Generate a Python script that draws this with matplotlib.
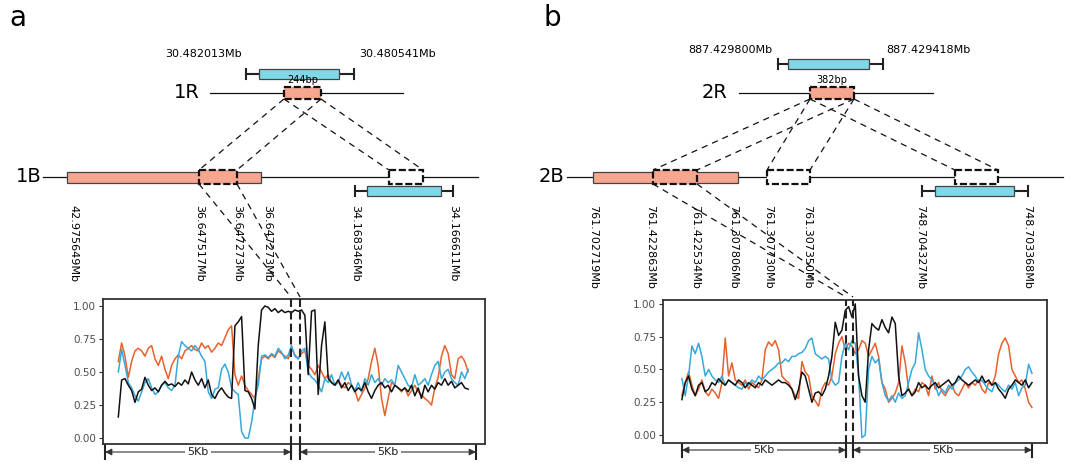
"""Synteny sketch of a 1R/1B and 2R/2B insertion with sliding-window similarity tracks."""

import numpy as np
import matplotlib

matplotlib.use("Agg")
import matplotlib.pyplot as plt
from matplotlib.patches import Rectangle

plt.rcParams["font.family"] = ["DejaVu Sans"]

# ---------------- data ----------------
Y_TICKS = [0.00, 0.25, 0.50, 0.75, 1.00]

# panel a: window values from the left flank to the right flank
a_black = [0.16, 0.44, 0.45, 0.40, 0.36, 0.27, 0.35, 0.37, 0.46, 0.40,
           0.36, 0.38, 0.35, 0.40, 0.43, 0.40, 0.41, 0.39, 0.42, 0.40,
           0.44, 0.41, 0.50, 0.44, 0.40, 0.45, 0.38, 0.44, 0.33, 0.30,
           0.35, 0.38, 0.34, 0.31, 0.30, 0.85, 0.88, 0.92, 0.36, 0.35,
           0.30, 0.22, 0.70, 0.97, 1.00, 0.99, 0.96, 0.98, 0.95, 0.97,
           0.95, 0.96, 0.95, 0.97, 0.96, 0.97, 0.93, 0.48, 0.96, 0.97,
           0.33, 0.70, 0.88, 0.45, 0.42, 0.40, 0.44, 0.38, 0.42, 0.36,
           0.40, 0.35, 0.38, 0.36, 0.42, 0.35, 0.30, 0.36, 0.40, 0.42,
           0.38, 0.40, 0.35, 0.40, 0.38, 0.36, 0.38, 0.35, 0.40, 0.32,
           0.38, 0.30, 0.40, 0.35, 0.40, 0.37, 0.42, 0.40, 0.45, 0.40,
           0.43, 0.38, 0.40, 0.42, 0.38, 0.37]
a_orange = [0.58, 0.72, 0.62, 0.46, 0.58, 0.66, 0.68, 0.66, 0.62, 0.68,
            0.70, 0.60, 0.55, 0.62, 0.52, 0.45, 0.55, 0.60, 0.63, 0.60,
            0.66, 0.68, 0.70, 0.67, 0.66, 0.72, 0.68, 0.70, 0.65, 0.68,
            0.72, 0.70, 0.76, 0.82, 0.85, 0.48, 0.40, 0.47, 0.40, 0.36,
            0.33, 0.30, 0.45, 0.60, 0.62, 0.60, 0.63, 0.61, 0.66, 0.64,
            0.62, 0.60, 0.68, 0.63, 0.60, 0.64, 0.66, 0.55, 0.52, 0.48,
            0.55, 0.50, 0.45, 0.48, 0.42, 0.40, 0.44, 0.40, 0.38, 0.42,
            0.40, 0.36, 0.28, 0.33, 0.38, 0.45, 0.58, 0.68, 0.55, 0.30,
            0.17, 0.30, 0.42, 0.40, 0.38, 0.35, 0.38, 0.32, 0.36, 0.40,
            0.35, 0.33, 0.30, 0.28, 0.25, 0.38, 0.46, 0.62, 0.70, 0.64,
            0.48, 0.45, 0.60, 0.62, 0.58, 0.50]
a_cyan = [0.50, 0.67, 0.55, 0.42, 0.38, 0.32, 0.28, 0.35, 0.42, 0.45,
          0.38, 0.33, 0.35, 0.40, 0.42, 0.38, 0.36, 0.40, 0.62, 0.73,
          0.70, 0.68, 0.66, 0.70, 0.67, 0.62, 0.58, 0.35, 0.30, 0.37,
          0.38, 0.52, 0.56, 0.50, 0.38, 0.35, 0.33, 0.05, 0.00, 0.00,
          0.12, 0.30, 0.40, 0.62, 0.63, 0.61, 0.64, 0.62, 0.68, 0.65,
          0.60, 0.63, 0.70, 0.62, 0.60, 0.66, 0.68, 0.50, 0.46, 0.44,
          0.40, 0.35, 0.45, 0.42, 0.48, 0.40, 0.42, 0.50, 0.44, 0.50,
          0.40, 0.36, 0.42, 0.35, 0.45, 0.40, 0.48, 0.42, 0.45, 0.40,
          0.45, 0.42, 0.44, 0.40, 0.55, 0.50, 0.45, 0.40, 0.38, 0.48,
          0.40, 0.42, 0.45, 0.40, 0.48, 0.55, 0.58, 0.45, 0.50, 0.52,
          0.45, 0.42, 0.40, 0.50, 0.45, 0.52]
a_span_kb = (-4.68, 4.80)   # first / last window centre
a_insert_kb = 0.244

# panel b
b_black = [0.27, 0.40, 0.45, 0.35, 0.30, 0.38, 0.40, 0.33, 0.35, 0.40,
           0.38, 0.43, 0.40, 0.38, 0.42, 0.40, 0.38, 0.42, 0.40, 0.36,
           0.40, 0.38, 0.36, 0.40, 0.38, 0.42, 0.40, 0.38, 0.40, 0.42,
           0.40, 0.40, 0.38, 0.35, 0.27, 0.35, 0.48, 0.45, 0.35, 0.25,
           0.32, 0.33, 0.30, 0.35, 0.45, 0.60, 0.86, 0.76, 0.80, 0.95,
           0.98, 0.90, 1.00, 0.45, 0.30, 0.25, 0.65, 0.85, 0.82, 0.80,
           0.88, 0.82, 0.78, 0.90, 0.85, 0.45, 0.30, 0.32, 0.35, 0.30,
           0.33, 0.40, 0.36, 0.38, 0.35, 0.38, 0.40, 0.36, 0.38, 0.40,
           0.42, 0.38, 0.40, 0.45, 0.42, 0.40, 0.38, 0.40, 0.42, 0.40,
           0.45, 0.40, 0.42, 0.38, 0.40, 0.35, 0.32, 0.28, 0.35, 0.38,
           0.42, 0.40, 0.38, 0.42, 0.36, 0.40]
b_orange = [0.30, 0.40, 0.48, 0.38, 0.30, 0.35, 0.42, 0.33, 0.30, 0.35,
            0.32, 0.28, 0.40, 0.74, 0.45, 0.55, 0.42, 0.40, 0.38, 0.42,
            0.35, 0.40, 0.38, 0.36, 0.42, 0.65, 0.71, 0.68, 0.72, 0.65,
            0.45, 0.42, 0.40, 0.35, 0.30, 0.28, 0.56, 0.48, 0.45, 0.30,
            0.26, 0.22, 0.35, 0.40, 0.38, 0.45, 0.62, 0.70, 0.75, 0.65,
            0.70, 0.68, 0.62, 0.65, 0.72, 0.70, 0.60, 0.65, 0.70, 0.60,
            0.40, 0.35, 0.25, 0.28, 0.32, 0.40, 0.68, 0.55, 0.35, 0.30,
            0.35, 0.33, 0.40, 0.38, 0.30, 0.45, 0.35, 0.40, 0.33, 0.30,
            0.35, 0.38, 0.32, 0.30, 0.35, 0.40, 0.36, 0.40, 0.38, 0.42,
            0.35, 0.32, 0.40, 0.38, 0.45, 0.62, 0.70, 0.74, 0.68, 0.50,
            0.45, 0.40, 0.42, 0.35, 0.25, 0.21]
b_cyan = [0.43, 0.30, 0.45, 0.68, 0.62, 0.70, 0.60, 0.45, 0.50, 0.45,
          0.42, 0.40, 0.45, 0.38, 0.42, 0.40, 0.38, 0.36, 0.35, 0.40,
          0.38, 0.42, 0.40, 0.45, 0.42, 0.45, 0.48, 0.50, 0.52, 0.55,
          0.55, 0.58, 0.56, 0.60, 0.60, 0.62, 0.63, 0.66, 0.72, 0.74,
          0.62, 0.60, 0.58, 0.60, 0.58, 0.42, 0.38, 0.40, 0.60, 0.70,
          0.65, 0.72, 0.70, 0.45, -0.02, 0.00, 0.50, 0.60, 0.55, 0.58,
          0.40, 0.30, 0.26, 0.30, 0.25, 0.32, 0.28, 0.30, 0.40, 0.50,
          0.55, 0.78, 0.65, 0.50, 0.45, 0.42, 0.38, 0.30, 0.35, 0.32,
          0.38, 0.35, 0.40, 0.42, 0.45, 0.50, 0.52, 0.48, 0.45, 0.40,
          0.42, 0.38, 0.35, 0.33, 0.40, 0.38, 0.35, 0.33, 0.38, 0.35,
          0.40, 0.30, 0.36, 0.38, 0.54, 0.47]
b_span_kb = (-4.69, 5.31)
b_insert_kb = 0.20           # drawn width of the 382bp insert

# labels
a_top_labels = ["30.482013Mb", "30.480541Mb"]
a_insert_label = "244bp"
a_B_labels = ["42.975649Mb", "36.647517Mb", "36.647273Mb", "36.647273Mb",
              "34.168346Mb", "34.166611Mb"]
b_top_labels = ["887.429800Mb", "887.429418Mb"]
b_insert_label = "382bp"
b_B_labels = ["761.702719Mb", "761.422863Mb", "761.422534Mb", "761.307806Mb",
              "761.307730Mb", "761.307350Mb", "748.704327Mb", "748.703368Mb"]

# ---------------- style ----------------
SALMON = "#f7a690"
CYAN_BOX = "#7fd8e8"
C_ORANGE = "#e8612c"
C_CYAN = "#36a9dc"
C_BLACK = "#111111"
W, H = 1080, 468
DASH = (0, (3.2, 1.2))
LINK = (0, (5, 4))

fig = plt.figure(figsize=(W / 100, H / 100), dpi=100)
ov = fig.add_axes([0, 0, 1, 1])
ov.set_xlim(0, W)
ov.set_ylim(H, 0)
ov.axis("off")


def box(x0, x1, y0, y1, fc, dashed=False, z=3):
    ov.add_patch(Rectangle((x0, y0), x1 - x0, y1 - y0, facecolor=fc,
                           edgecolor="#111" if dashed else "#444",
                           lw=1.6 if dashed else 0.9,
                           ls=DASH if dashed else "-", zorder=z))


def whisker_box(x0, x1, c0, c1, y, half=5):
    ov.plot([c0, c1], [y, y], color="#222", lw=1.5, zorder=2)
    for c in (c0, c1):
        ov.plot([c, c], [y - half, y + half], color="#222", lw=1.5, zorder=2)
    box(x0, x1, y - half, y + half, CYAN_BOX)


def link(p, q):
    ov.plot([p[0], q[0]], [p[1], q[1]], color="#111", lw=0.9, ls=LINK, zorder=1)


def bracket(x0, x1, y, text):
    for x in (x0, x1):
        ov.plot([x, x], [y - 7, y + 7], color="#222", lw=1.5)
    ov.annotate("", xy=(x0, y), xytext=(x1, y),
                arrowprops=dict(arrowstyle="<|-|>", color="#333", lw=0.8,
                                mutation_scale=10, shrinkA=0, shrinkB=0))
    ov.text((x0 + x1) / 2, y, text, fontsize=8, color="#222", ha="center",
            va="center", bbox=dict(fc="white", ec="none", pad=1.5))


def diagram(lab, lab_xy, top, r_row, b_row, vlabels, vx, links, drops):
    ov.text(*lab_xy, lab, fontsize=20, ha="center", va="center")
    # top cyan gene with coordinates
    (tx0, tx1, tc0, tc1, ty, tly, tl0, tl1, tlabels) = top
    whisker_box(tx0, tx1, tc0, tc1, ty)
    ov.text(tl0, tly, tlabels[0], fontsize=8, ha="center", va="center")
    ov.text(tl1, tly, tlabels[1], fontsize=8, ha="center", va="center")
    # R chromosome
    (rname, rnx, rl0, rl1, ry, ix0, ix1, ilabel) = r_row
    ov.text(rnx, ry, rname, fontsize=14, ha="center", va="center")
    ov.plot([rl0, rl1], [ry, ry], color="#111", lw=0.9, zorder=2)
    box(ix0, ix1, ry - 6, ry + 6, SALMON, dashed=True)
    ov.text((ix0 + ix1) / 2, ry - 13, ilabel, fontsize=7, ha="center", va="center")
    # B chromosome
    (bname, bnx, bl0, bl1, by, sx0, sx1, dboxes, cyan) = b_row
    ov.text(bnx, by, bname, fontsize=14, ha="center", va="center")
    ov.plot([bl0, bl1], [by, by], color="#111", lw=0.9, zorder=2)
    box(sx0, sx1, by - 5, by + 6, SALMON)
    for (d0, d1, fc) in dboxes:
        box(d0, d1, by - 7, by + 7, fc, dashed=True, z=4)
    whisker_box(*cyan)
    for x, t in zip(vx, vlabels):
        ov.text(x, 205, t, fontsize=8, rotation=-90, ha="center", va="top")
    for p, q in links + drops:
        link(p, q)


# panel a schematic
diagram("a", (18, 18),
        (259, 339, 246, 354, 74, 54, 204, 398, a_top_labels),
        ("1R", 187, 210, 403, 93, 284, 321, a_insert_label),
        ("1B", 29, 43, 478, 177, 67, 261,
         [(199, 237, SALMON), (389, 423, "white")], (367, 441, 355, 453, 191)),
        a_B_labels, [73, 199, 237, 267, 355, 453],
        [((284, 99), (199, 170)), ((321, 99), (237, 170)),
         ((284, 99), (389, 170)), ((321, 99), (423, 170))],
        [((199, 184), (291, 297)), ((237, 184), (300, 297))])

# panel b schematic
diagram("b", (552, 18),
        (788, 869, 778, 883, 64, 50, 730, 928, b_top_labels),
        ("2R", 715, 739, 933, 93, 810, 854, b_insert_label),
        ("2B", 552, 567, 1063, 177, 593, 738,
         [(653, 697, SALMON), (767, 810, "white"), (955, 998, "white")],
         (935, 1014, 922, 1028, 191)),
        b_B_labels, [593, 650, 695, 733, 768, 807, 920, 1027],
        [((810, 99), (653, 170)), ((854, 99), (697, 170)),
         ((810, 99), (767, 170)), ((854, 99), (810, 170)),
         ((810, 99), (955, 170)), ((854, 99), (998, 170))],
        [((653, 184), (846, 297)), ((697, 184), (853, 297))])


# ---------------- similarity tracks ----------------
def track(rect_px, xlim, ylim, span, insert, series):
    l, t, r, b = rect_px
    ax = fig.add_axes([l / W, 1 - b / H, (r - l) / W, (b - t) / H])
    for vals, col in series:
        xs = np.linspace(span[0], span[1], len(vals))
        ax.plot(xs, vals, color=col, lw=1.1)
    for x in (0.0, insert):
        ax.plot([x, x], [ylim[0] - 0.1, ylim[1]], color="#222", lw=1.5,
                ls=(0, (4, 2)), clip_on=False, zorder=5)
    ax.set_xlim(*xlim)
    ax.set_ylim(*ylim)
    ax.set_xticks([])
    ax.set_yticks(Y_TICKS)
    ax.set_yticklabels([f"{v:.2f}" for v in Y_TICKS])
    ax.tick_params(axis="y", length=3, width=0.8, color="#333",
                   labelcolor="#4d4d4d", labelsize=7.5, pad=2)
    for s in ax.spines.values():
        s.set_color("#333")
        s.set_linewidth(1.3)
    return ax


track((103, 299, 485, 444), (-5.095, 5.257), (-0.045, 1.053), a_span_kb, a_insert_kb,
      [(a_orange, C_ORANGE), (a_cyan, C_CYAN), (a_black, C_BLACK)])
track((663, 300, 1047, 443), (-5.23, 5.74), (-0.061, 1.03), b_span_kb, b_insert_kb,
      [(b_orange, C_ORANGE), (b_cyan, C_CYAN), (b_black, C_BLACK)])

bracket(105, 291, 452, "5Kb")
bracket(300, 476, 452, "5Kb")
bracket(682, 846, 450, "5Kb")
bracket(853, 1032, 450, "5Kb")

fig.savefig("out.png", dpi=100)
plt.close(fig)
